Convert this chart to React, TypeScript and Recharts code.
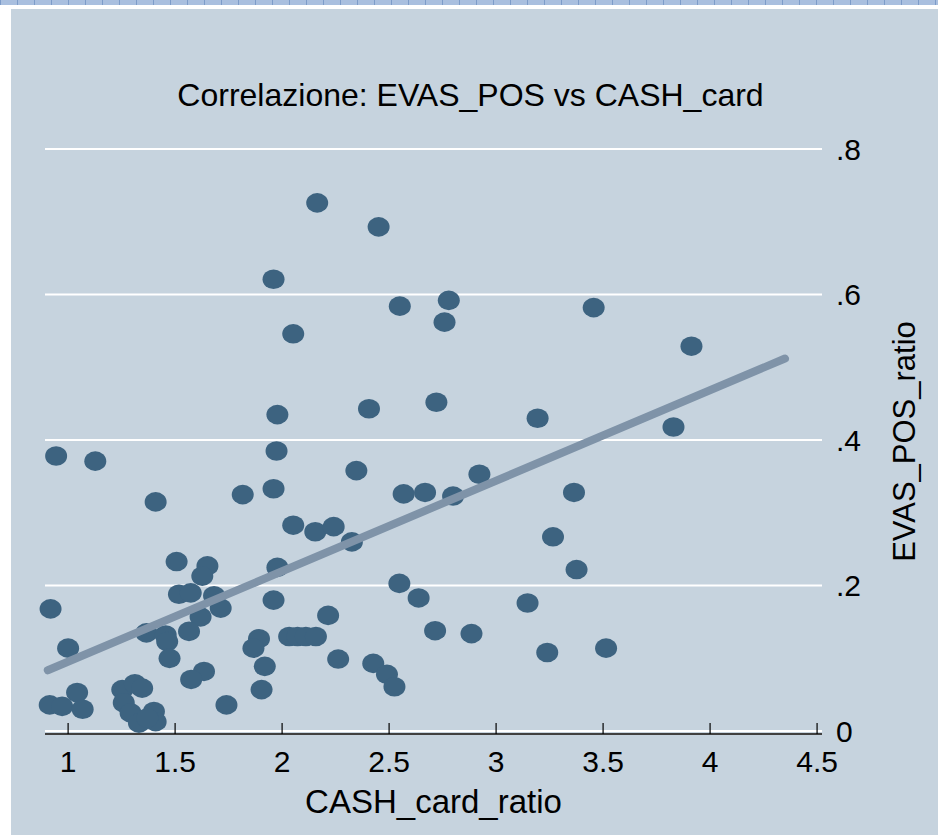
import { ScatterChart, Scatter, XAxis, YAxis, CartesianGrid } from "recharts";

// CASH_card_ratio (x) vs EVAS_POS_ratio (y)
const cashCard = [
  2.164, 2.451, 1.96, 2.55, 2.779, 2.759, 2.052, 1.978, 2.406, 2.721,
  0.944, 1.127, 1.974, 3.456, 3.913, 3.194, 3.829, 1.409, 1.816, 1.96,
  2.347, 2.568, 2.668, 2.799, 2.922, 2.052, 2.155, 2.241, 2.326, 1.507,
  1.651, 1.627, 1.978, 0.918, 1.518, 1.573, 1.682, 1.713, 1.619, 1.96,
  2.215, 2.548, 2.638, 2.715, 2.885, 1.0, 1.366, 1.456, 1.463, 1.565,
  1.474, 1.892, 1.866, 2.033, 2.072, 2.111, 2.158, 2.262, 1.919, 1.635,
  1.575, 2.426, 2.49, 2.525, 1.904, 1.74, 1.042, 0.914, 0.972, 1.068,
  1.253, 1.312, 1.346, 1.26, 1.292, 1.331, 1.401, 1.409, 1.37, 3.364,
  3.266, 3.376, 3.147, 3.239, 3.514,
];
const evasPos = [
  0.726, 0.693, 0.621, 0.584, 0.592, 0.562, 0.546, 0.435, 0.443, 0.452,
  0.378, 0.371, 0.385, 0.582, 0.529, 0.43, 0.418, 0.315, 0.325, 0.333,
  0.358, 0.326, 0.328, 0.323, 0.353, 0.283, 0.274, 0.281, 0.26, 0.233,
  0.227, 0.213, 0.225, 0.168, 0.188, 0.19, 0.186, 0.169, 0.157, 0.18,
  0.159, 0.203, 0.183, 0.138, 0.134, 0.114, 0.135, 0.132, 0.123, 0.137,
  0.1, 0.127, 0.114, 0.13, 0.13, 0.13, 0.13, 0.099, 0.089, 0.082,
  0.071, 0.093, 0.078, 0.061, 0.057, 0.036, 0.053, 0.036, 0.034, 0.03,
  0.057, 0.065, 0.059, 0.039, 0.025, 0.011, 0.027, 0.013, 0.018, 0.328,
  0.267, 0.222, 0.176, 0.108, 0.114,
];

// fitted line end points
const fitX = [0.905, 4.35];
const fitY = [0.0836, 0.512];

const xTicks = [1, 1.5, 2, 2.5, 3, 3.5, 4, 4.5];
const yTicks = [0, 0.2, 0.4, 0.6, 0.8];

const points = cashCard.map((x, i) => ({ x, y: evasPos[i] }));
const fit = fitX.map((x, i) => ({ x, y: fitY[i] }));

const FONT = "'Liberation Sans', Arial, sans-serif";

const Dot = (props: any) => {
  const { cx, cy } = props;
  return <ellipse cx={cx} cy={cy} rx={11} ry={9.8} fill="#3d6380" />;
};

const XTick = (props: any) => {
  const { x, y, payload } = props;
  return (
    <g>
      <line x1={x} y1={y} x2={x} y2={y - 11} stroke="#000" strokeWidth={1.2} />
      <text x={x} y={y + 37.5} textAnchor="middle" fontSize={30} fontFamily={FONT} fill="#000">
        {payload.value}
      </text>
    </g>
  );
};

const fmtY = (v: number) => (v === 0 ? "0" : String(v).replace(/^0/, ""));

export default function App() {
  return (
    <div style={{ position: "absolute", left: 0, top: 0, width: 938, height: 835, background: "#fff", overflow: "hidden", fontFamily: FONT }}>
      <div
        style={{
          position: "absolute", left: 0, top: 0, width: 938, height: 5,
          background: "repeating-linear-gradient(90deg, #7d9cc9 0px, #7d9cc9 1px, #a9bfdf 1px, #a9bfdf 17px)",
        }}
      />
      <div style={{ position: "absolute", left: 11, top: 9, right: 0, bottom: 0, background: "#c6d3de" }} />
      <div style={{ position: "absolute", left: 0, top: 77, width: 941, textAlign: "center", fontSize: 32, lineHeight: "37px", color: "#000" }}>
        Correlazione: EVAS_POS vs CASH_card
      </div>
      <div style={{ position: "absolute", left: 0, top: 0 }}>
        <ScatterChart width={938} height={835} margin={{ top: 149, right: 0, bottom: 1, left: 45 }}>
          <CartesianGrid vertical={false} stroke="#ffffff" strokeWidth={2} />
          <XAxis
            type="number"
            dataKey="x"
            domain={[0.892, 4.523]}
            ticks={xTicks}
            height={100}
            tickSize={0}
            tickMargin={0}
            tickLine={false}
            tick={<XTick />}
            axisLine={{ stroke: "#000", strokeWidth: 1.6 }}
            label={{ value: "CASH_card_ratio", position: "insideBottom", offset: 21, fontSize: 33, fill: "#000", fontFamily: FONT }}
          />
          <YAxis
            type="number"
            dataKey="y"
            orientation="right"
            domain={[-0.004, 0.8]}
            ticks={yTicks}
            width={116}
            axisLine={false}
            tickLine={false}
            tickSize={0}
            tickMargin={14}
            tickFormatter={fmtY}
            tick={{ fontSize: 30, fill: "#000", fontFamily: FONT }}
            label={{ value: "EVAS_POS_ratio", angle: -90, position: "center", dx: 24, fontSize: 31, fill: "#000", fontFamily: FONT }}
          />
          <Scatter data={points} shape={<Dot />} isAnimationActive={false} />
          <Scatter
            data={fit}
            line={{ stroke: "#7f93a8", strokeWidth: 8, strokeLinecap: "round" }}
            lineType="joint"
            shape={() => <g />}
            isAnimationActive={false}
          />
        </ScatterChart>
      </div>
    </div>
  );
}
